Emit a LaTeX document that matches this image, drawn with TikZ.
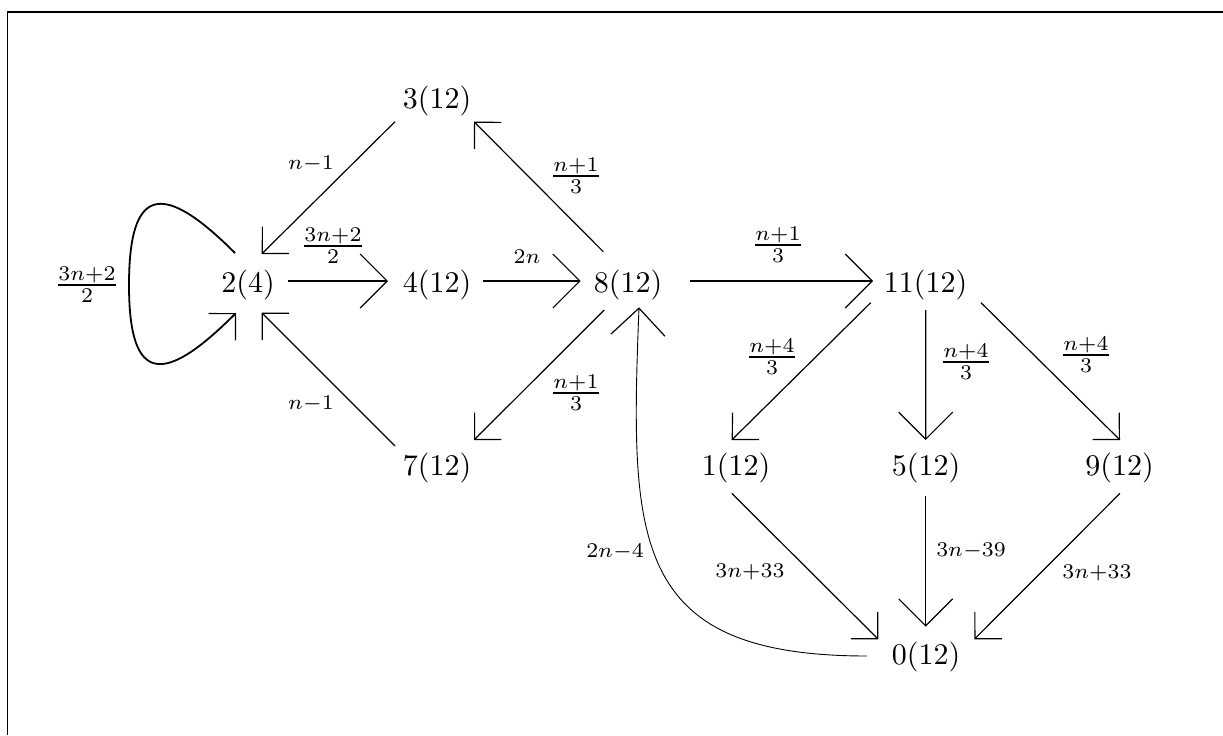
\documentclass[tikz,border=0pt]{standalone}
\usetikzlibrary{arrows.meta}
\begin{document}
\begin{tikzpicture}[x=0.3333pt,y=-0.3333pt,
  nd/.style={inner sep=0pt},
  lbl/.style={inner sep=0pt},
  ed/.style={line width=0.4pt},
  tipD/.style={-{Straight Barb[length=6.33pt,width=12.67pt,line width=0.4pt]}},
  tipH/.style={-{Straight Barb[length=9pt,width=18pt,line width=0.4pt]}}]
\useasboundingbox (0,0) rectangle (1223,735);
\coordinate (fb) at (7.3,735);
\coordinate (fc) at (7.3,12);
\coordinate (fr) at (1223,12);
\draw[line width=0.5pt] (fb) -- (fc) -- (fr);

\node[nd] (n3)  at (437,101) {3(12)};
\node[nd] (n2)  at (248,285) {2(4)};
\node[nd] (n4)  at (437,285) {4(12)};
\node[nd] (n8)  at (628,285) {8(12)};
\node[nd] (n7)  at (437,468) {7(12)};
\node[nd] (n11) at (925.5,285) {11(12)};
\node[nd] (n1)  at (736,468) {1(12)};
\node[nd] (n5)  at (926,468) {5(12)};
\node[nd] (n9)  at (1119.5,468) {9(12)};
\node[nd] (n0)  at (926,657) {0(12)};

% edges
\draw[ed,tipD] ([shift={(-42,20.7)}]n3.center) -- ([shift={(13.7,-31)}]n2.center);
\draw[ed,tipD] ([shift={(-24.7,-33.3)}]n8.center) -- ([shift={(37,20.7)}]n3.center);
\draw[line width=0.6pt,tipD] ([shift={(-13,-32)}]n2.center) .. controls +(-72,-72) and +(0,-100) .. ([shift={(-119,0)}]n2.center) .. controls +(0,100) and +(-72,72) .. ([shift={(-12,28)}]n2.center);
\draw[ed,tipH] ([shift={(40.3,-4)}]n2.center) -- ([shift={(-49,-4)}]n4.center);
\draw[ed,tipH] ([shift={(46,-4)}]n4.center) -- ([shift={(-47.3,-4)}]n8.center);
\draw[ed,tipD] ([shift={(-23.7,25)}]n8.center) -- ([shift={(37,-28)}]n7.center);
\draw[ed,tipD] ([shift={(-42,-22)}]n7.center) -- ([shift={(13.7,27.7)}]n2.center);
\draw[line width=0.3pt,tipH] ([shift={(-59,-1)}]n0.center) .. controls +(-237,0) and +(-9,233) .. ([shift={(11,22.3)}]n8.center);
\draw[ed,tipH] ([shift={(62,-4)}]n8.center) -- ([shift={(-52.5,-4)}]n11.center);
\draw[ed,tipD] ([shift={(-54.8,17.7)}]n11.center) -- ([shift={(-4.3,-28)}]n1.center);
\draw[ed,tipH] ([shift={(0.2,25)}]n11.center) -- ([shift={(-0.3,-28)}]n5.center);
\draw[ed,tipD] ([shift={(55.5,17.7)}]n11.center) -- ([shift={(0.5,-28)}]n9.center);
\draw[ed,tipD] ([shift={(-4.3,25.3)}]n1.center) -- ([shift={(-47.7,-17.7)}]n0.center);
\draw[ed,tipH] ([shift={(-0.3,28)}]n5.center) -- ([shift={(-0.3,-30.3)}]n0.center);
\draw[ed,tipD] ([shift={(0.5,25.3)}]n9.center) -- ([shift={(48.3,-17.7)}]n0.center);

% labels
\node[lbl] (l1)  at (311,164) {$\scriptstyle n-1$};
\node[lbl] (l2)  at (576,176) {$\frac{n+1}{3}$};
\node[lbl] (l3)  at (87,285)  {$\frac{3n+2}{2}$};
\node[lbl] (l4)  at (333,246) {$\frac{3n+2}{2}$};
\node[lbl] (l5)  at (527,257) {$\scriptstyle 2n$};
\node[lbl] (l6)  at (576,393) {$\frac{n+1}{3}$};
\node[lbl] (l7)  at (311,404) {$\scriptstyle n-1$};
\node[lbl] (l8)  at (615,552) {$\scriptstyle 2n-4$};
\node[lbl] (l9)  at (778,245) {$\frac{n+1}{3}$};
\node[lbl] (l10) at (772,357) {$\frac{n+4}{3}$};
\node[lbl] (l11) at (966,362) {$\frac{n+4}{3}$};
\node[lbl] (l12) at (1086,355) {$\frac{n+4}{3}$};
\node[lbl] (l13) at (750,572) {$\scriptstyle 3n+33$};
\node[lbl] (l14) at (971,551) {$\scriptstyle 3n-39$};
\node[lbl] (l15) at (1097,573) {$\scriptstyle 3n+33$};
\end{tikzpicture}
\end{document}
